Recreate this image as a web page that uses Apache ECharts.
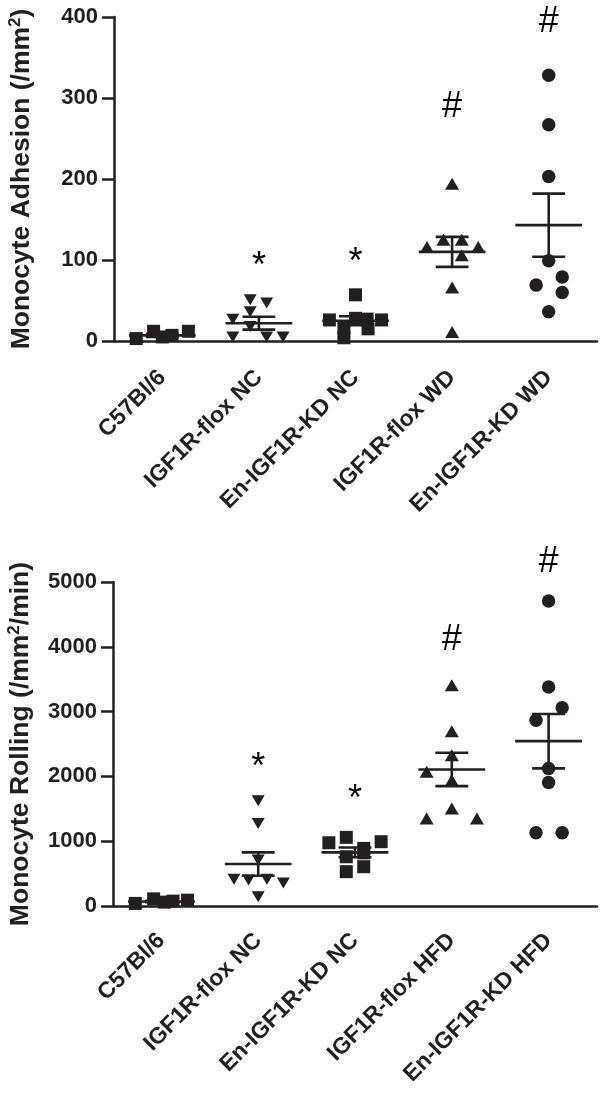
<!DOCTYPE html>
<html>
<head>
<meta charset="utf-8">
<script src="https://cdn.jsdelivr.net/npm/echarts@6/dist/echarts.min.js"></script>
<style>
html,body{margin:0;padding:0;background:#fff;}
#c{width:601px;height:1093px;}
</style>
</head>
<body>
<div id="c"></div>
<script>
// ---------- DATA ----------
const catsTop = ['C57Bl/6', 'IGF1R-flox NC', 'En-IGF1R-KD NC', 'IGF1R-flox WD', 'En-IGF1R-KD WD'];
const catsBottom = ['C57Bl/6', 'IGF1R-flox NC', 'En-IGF1R-KD NC', 'IGF1R-flox HFD', 'En-IGF1R-KD HFD'];
const yTicksTop = [0, 100, 200, 300, 400];
const yTicksBottom = [0, 1000, 2000, 3000, 4000, 5000];

// Monocyte adhesion (/mm2), per group: values and horizontal jitter (in category units)
const adhC57 = [3, 12, 5, 7, 12];
const adhC57Jit = [-0.27, -0.09, 0.0, 0.1, 0.27];
const adhFloxNC = [51, 47, 36, 27, 18, 5, 5, 5];
const adhFloxNCJit = [-0.09, 0.08, -0.09, -0.27, -0.09, -0.27, 0.08, 0.25];
const adhKDNC = [57, 26, 28, 26, 16, 15, 4, 27];
const adhKDNCJit = [0.0, -0.27, 0.0, 0.27, -0.12, 0.13, -0.12, 0.12];
const adhFloxWD = [194, 125, 125, 116, 116, 106, 66, 11];
const adhFloxWDJit = [0.0, -0.09, 0.1, -0.26, 0.27, 0.1, 0.0, 0.0];
const adhKDWD = [328, 267, 203, 99, 69, 79, 60, 36];
const adhKDWDJit = [0.0, 0.0, 0.0, 0.0, -0.13, 0.14, 0.14, 0.0];
const adhMean = [7, 22, 25, 110, 143];
const adhSem = [2, 8, 5.5, 18.5, 39];
const adhMarks = ['', '*', '*', '#', '#'];
const adhMarkLevel = [0, 91, 96, 289, 394];

// Monocyte rolling (/mm2/min)
const rolC57 = [40, 110, 60, 75, 90];
const rolC57Jit = [-0.27, -0.08, 0.03, 0.12, 0.27];
const rolFloxNC = [1624, 1274, 709, 411, 400, 411, 354, 143];
const rolFloxNCJit = [0.0, 0.0, 0.0, -0.25, -0.1, 0.09, 0.26, 0.0];
const rolKDNC = [976, 1059, 889, 992, 530, 606, 760, 820];
const rolKDNCJit = [-0.27, -0.09, 0.09, 0.27, -0.09, 0.09, -0.09, 0.09];
const rolFloxHFD = [3407, 2698, 2328, 2071, 1942, 1506, 1351, 1351];
const rolFloxHFDJit = [0.0, 0.0, 0.0, -0.26, 0.0, 0.0, -0.26, 0.26];
const rolKDHFD = [4707, 3381, 3058, 2867, 2122, 1906, 1130, 1130];
const rolKDHFDJit = [0.0, 0.0, 0.14, -0.13, 0.0, 0.0, -0.13, 0.14];
const rolMean = [70, 647, 827, 2107, 2544];
const rolSem = [12, 180, 75, 257, 420];
const rolMarks = ['', '*', '*', '#', '#'];
const rolMarkLevel = [0, 2126, 1633, 4099, 5300];

// ---------- BUILD ----------
const INK = '#231f20';
const FONT = '"Liberation Sans", Arial, Helvetica, sans-serif';

function pts(idx, vals, jit) { return vals.map((v, i) => [idx + jit[i], v]); }

function catAxis(grid, cats, margin) {
  return {
    type: 'category', gridIndex: grid, data: cats, boundaryGap: true,
    axisLine: { onZero: false, lineStyle: { color: INK, width: 2.5 } },
    axisTick: { alignWithLabel: true, length: 10, lineStyle: { color: INK, width: 2.5 } },
    axisLabel: { rotate: 45, margin: margin, color: INK, fontFamily: FONT, fontWeight: 'bold', fontSize: 23, interval: 0, hideOverlap: false },
    splitLine: { show: false }
  };
}
function valXAxis(grid) {
  return { type: 'value', gridIndex: grid, min: -0.5, max: 4.5, show: false, splitLine: { show: false } };
}
function yAxis(grid, ticks, name) {
  const step = ticks[1] - ticks[0];
  return {
    type: 'value', gridIndex: grid, min: ticks[0], max: ticks[ticks.length - 1], interval: step,
    name: name, nameLocation: 'middle', nameGap: 77, nameRotate: 90,
    nameTextStyle: {
      rich: {
        t: { fontFamily: FONT, fontWeight: 'bold', fontSize: 26.5, color: INK, lineHeight: 30 },
        s: { fontFamily: FONT, fontWeight: 'bold', fontSize: 17, color: INK, verticalAlign: 'top', lineHeight: 20 }
      }
    },
    axisLine: { show: true, onZero: false, lineStyle: { color: INK, width: 2.5 } },
    axisTick: { show: true, length: 12, lineStyle: { color: INK, width: 2.5 } },
    axisLabel: { margin: 16, color: INK, fontFamily: FONT, fontWeight: 'bold', fontSize: 22, formatter: v => String(v) },
    splitLine: { show: false }
  };
}

function scatter(xi, yi, data, symbol, size, rotate) {
  return {
    type: 'scatter', xAxisIndex: xi, yAxisIndex: yi, data: data, symbol: symbol,
    symbolSize: size, symbolRotate: rotate || 0, clip: false,
    itemStyle: { color: INK, opacity: 1 }, emphasis: { disabled: true }, z: 3
  };
}
function errBars(xi, yi, means, sems) {
  return {
    type: 'custom', xAxisIndex: xi, yAxisIndex: yi, z: 4, clip: false,
    data: means.map((m, i) => [i, m, sems[i]]),
    renderItem: function (params, api) {
      const x = api.value(0), m = api.value(1), s = api.value(2);
      const c = api.coord([x, m]);
      const hi = api.coord([x, m + s]);
      const lo = api.coord([x, m - s]);
      const wMean = api.size([0.69, 0])[0] / 2;
      const wCap = api.size([0.34, 0])[0] / 2;
      const st = { stroke: INK, lineWidth: 2.6 };
      return {
        type: 'group', children: [
          { type: 'line', shape: { x1: c[0] - wMean, y1: c[1], x2: c[0] + wMean, y2: c[1] }, style: st },
          { type: 'line', shape: { x1: hi[0] - wCap, y1: hi[1], x2: hi[0] + wCap, y2: hi[1] }, style: st },
          { type: 'line', shape: { x1: lo[0] - wCap, y1: lo[1], x2: lo[0] + wCap, y2: lo[1] }, style: st },
          { type: 'line', shape: { x1: c[0], y1: hi[1], x2: c[0], y2: lo[1] }, style: st }
        ]
      };
    }
  };
}
function marks(xi, yi, labels, levels) {
  const d = [];
  labels.forEach((l, i) => { if (l) d.push({ value: [i, levels[i]], name: l }); });
  return {
    type: 'scatter', xAxisIndex: xi, yAxisIndex: yi, symbolSize: 1, clip: false,
    itemStyle: { color: 'rgba(0,0,0,0)' }, data: d, z: 5, silent: true,
    label: { show: true, position: 'inside', formatter: p => p.name, color: '#000', opacity: 1, fontFamily: FONT, fontSize: 36, fontWeight: 'normal' }
  };
}

const option = {
  animation: false,
  backgroundColor: '#fff',
  grid: [
    { left: 114, right: 4, top: 17, height: 324, containLabel: false, outerBoundsMode: 'none' },
    { left: 113, right: 4, top: 582, height: 324, containLabel: false, outerBoundsMode: 'none' }
  ],
  xAxis: [catAxis(0, catsTop, 33), valXAxis(0), catAxis(1, catsBottom, 31), valXAxis(1)],
  yAxis: [
    yAxis(0, yTicksTop, '{t|Monocyte Adhesion (/mm}{s|2}{t|)}'),
    yAxis(1, yTicksBottom, '{t|Monocyte Rolling (/mm}{s|2}{t|/min)}')
  ],
  series: [
    scatter(1, 0, pts(0, adhC57, adhC57Jit), 'rect', 13),
    scatter(1, 0, pts(1, adhFloxNC, adhFloxNCJit), 'triangle', [13, 11], 180),
    scatter(1, 0, pts(2, adhKDNC, adhKDNCJit), 'rect', 13),
    scatter(1, 0, pts(3, adhFloxWD, adhFloxWDJit), 'triangle', [14, 12]),
    scatter(1, 0, pts(4, adhKDWD, adhKDWDJit), 'circle', 13.5),
    errBars(1, 0, adhMean, adhSem),
    marks(1, 0, adhMarks, adhMarkLevel),
    scatter(3, 1, pts(0, rolC57, rolC57Jit), 'rect', 13),
    scatter(3, 1, pts(1, rolFloxNC, rolFloxNCJit), 'triangle', [13, 11], 180),
    scatter(3, 1, pts(2, rolKDNC, rolKDNCJit), 'rect', 13),
    scatter(3, 1, pts(3, rolFloxHFD, rolFloxHFDJit), 'triangle', [14, 12]),
    scatter(3, 1, pts(4, rolKDHFD, rolKDHFDJit), 'circle', 13.5),
    errBars(3, 1, rolMean, rolSem),
    marks(3, 1, rolMarks, rolMarkLevel)
  ]
};
const chart = echarts.init(document.getElementById('c'), null, { renderer: 'canvas' });
chart.setOption(option);
</script>
</body>
</html>
